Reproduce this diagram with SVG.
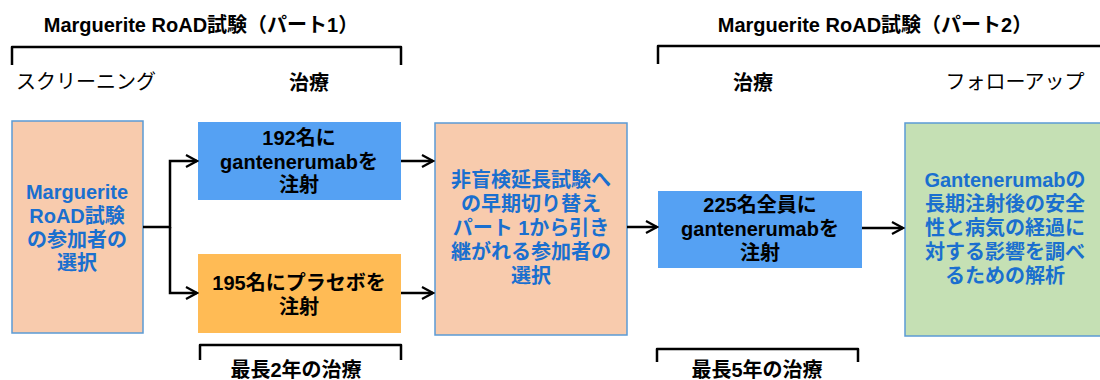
<svg xmlns="http://www.w3.org/2000/svg" width="1100" height="380" viewBox="0 0 1100 380">
<style>
text{font-family:"Liberation Sans","Noto Sans CJK JP",sans-serif;font-size:20px;fill:#000}
.b{font-weight:bold}
.c{text-anchor:middle}
.bt{fill:#1a6fcf;font-weight:bold;text-anchor:middle}
.peach{fill:#F8CBAD;stroke:#5B9BD5;stroke-width:1.5}
.green{fill:#C5E0B4;stroke:#5B9BD5;stroke-width:1.5}
.blue{fill:#55A1F3}
.orange{fill:#FFBB55}
.br{fill:none;stroke:#000;stroke-width:2.5;stroke-linejoin:round}
.ln{fill:none;stroke:#000;stroke-width:2.5}
</style>
<defs>
<marker id="ar" markerUnits="userSpaceOnUse" markerWidth="14" markerHeight="16" refX="12" refY="7" orient="auto">
<path d="M1,1 L12,7 L1,13" fill="none" stroke="#000" stroke-width="2.2"/>
</marker>
</defs>
<g id="headers">
<text class="b c" x="201" y="32">Marguerite RoAD試験（パート1）</text>
<path class="br" d="M12,65 V47 H401 V65"/>
<text x="16" y="89">スクリーニング</text>
<text class="b c" x="309" y="90">治療</text>
<text class="b c" x="875" y="32">Marguerite RoAD試験（パート2）</text>
<path class="br" d="M658,64 V46 H1104"/>
<text class="b c" x="753" y="90">治療</text>
<text class="c" x="1015" y="89">フォローアップ</text>
<path class="br" d="M200,360 V345 H401 V360"/>
<text class="b c" x="296" y="377">最長2年の治療</text>
<path class="br" d="M657,362 V349 H858 V362"/>
<text class="b c" x="757" y="377">最長5年の治療</text>
</g>
<g id="node-screening">
<rect class="peach" x="12" y="121" width="131" height="212"/>
<text class="bt" x="77" y="199">Marguerite</text>
<text class="bt" x="77" y="223">RoAD試験</text>
<text class="bt" x="77" y="247">の参加者の</text>
<text class="bt" x="77" y="270">選択</text>
</g>
<g id="node-gantenerumab">
<rect class="blue" x="198" y="122" width="203" height="78"/>
<text class="b c" x="299" y="145">192名に</text>
<text class="b c" x="299" y="169">gantenerumabを</text>
<text class="b c" x="299" y="192">注射</text>
</g>
<g id="node-placebo">
<rect class="orange" x="198" y="254" width="203" height="79"/>
<text class="b c" x="299" y="290">195名にプラセボを</text>
<text class="b c" x="299" y="314">注射</text>
</g>
<g id="node-extension">
<rect class="peach" x="435" y="123" width="192" height="212"/>
<text class="bt" x="531" y="187">非盲検延長試験へ</text>
<text class="bt" x="531" y="211">の早期切り替え</text>
<text class="bt" x="531" y="235">パート 1から引き</text>
<text class="bt" x="531" y="259">継がれる参加者の</text>
<text class="bt" x="531" y="283">選択</text>
</g>
<g id="node-all">
<rect class="blue" x="658" y="191" width="204" height="77"/>
<text class="b c" x="760" y="212">225名全員に</text>
<text class="b c" x="760" y="236">gantenerumabを</text>
<text class="b c" x="760" y="260">注射</text>
</g>
<g id="node-analysis">
<rect class="green" x="905" y="123" width="200" height="213"/>
<text class="bt" x="1005" y="187">Gantenerumabの</text>
<text class="bt" x="1005" y="211">長期注射後の安全</text>
<text class="bt" x="1005" y="235">性と病気の経過に</text>
<text class="bt" x="1005" y="259">対する影響を調べ</text>
<text class="bt" x="1005" y="283">るための解析</text>
</g>
<g id="connectors">
<path class="ln" d="M143,227 H170 V161 H197" marker-end="url(#ar)"/>
<path class="ln" d="M170,227 V293 H197" marker-end="url(#ar)"/>
<path class="ln" d="M401,161 H433" marker-end="url(#ar)"/>
<path class="ln" d="M401,293 H433" marker-end="url(#ar)"/>
<path class="ln" d="M627,227 H657" marker-end="url(#ar)"/>
<path class="ln" d="M862,228 H903" marker-end="url(#ar)"/>
</g>
</svg>
